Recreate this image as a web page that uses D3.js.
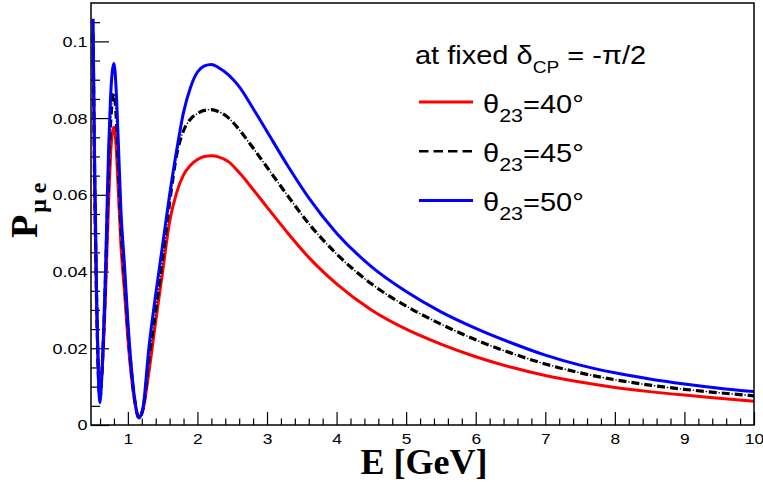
<!DOCTYPE html>
<html>
<head>
<meta charset="utf-8">
<script src="https://cdn.jsdelivr.net/npm/d3@7"></script>
<style>
  body { margin: 0; background: #fff; }
  text { font-family: "Liberation Sans", Arial, sans-serif; }
</style>
</head>
<body>
<script>
// energies (GeV) and appearance probabilities
var energy = [0.5, 0.52, 0.55, 0.575, 0.597, 0.625, 0.65, 0.675, 0.7, 0.725, 0.75, 0.775, 0.8, 0.83, 0.86, 0.9, 0.95, 1.0, 1.05, 1.1,
  1.16, 1.22, 1.3, 1.4, 1.5, 1.6, 1.7, 1.8, 1.9, 2.0, 2.1, 2.2, 2.3, 2.45, 2.6, 2.8, 3.0, 3.3, 3.6, 4.0,
  4.5, 5.0, 5.5, 6.0, 6.5, 7.0, 7.5, 8.0, 8.5, 9.0, 9.5, 10.0]

var p40 = [0.097, 0.064, 0.031, 0.0145, 0.0085, 0.013, 0.021, 0.032, 0.046, 0.059, 0.070, 0.0760, 0.0777, 0.073, 0.062, 0.047, 0.035, 0.0225, 0.0128, 0.006,
  0.0022, 0.0042, 0.0135, 0.027, 0.040, 0.053, 0.0605, 0.0652, 0.0677, 0.0692, 0.0700, 0.0702, 0.0699, 0.0686, 0.0658, 0.0614, 0.0568, 0.0500, 0.0437, 0.0368,
  0.0300, 0.0250, 0.0211, 0.0178, 0.0151, 0.0129, 0.0112, 0.0098, 0.0087, 0.0078, 0.0070, 0.0062]

var p45 = [0.102, 0.068, 0.033, 0.0135, 0.0068, 0.013, 0.023, 0.036, 0.052, 0.067, 0.078, 0.0845, 0.0864, 0.081, 0.069, 0.052, 0.039, 0.025, 0.014, 0.0062,
  0.0018, 0.0044, 0.017, 0.030, 0.0435, 0.058, 0.0703, 0.0767, 0.0797, 0.0812, 0.0820, 0.0822, 0.0817, 0.0800, 0.0770, 0.0722, 0.0672, 0.0597, 0.0525, 0.0446,
  0.0368, 0.0310, 0.0263, 0.0222, 0.0188, 0.0159, 0.0136, 0.0118, 0.0104, 0.0093, 0.0084, 0.0076]

var p50 = [0.1059, 0.072, 0.035, 0.0135, 0.0058, 0.0125, 0.024, 0.038, 0.056, 0.073, 0.085, 0.092, 0.0942, 0.088, 0.075, 0.056, 0.042, 0.027, 0.015, 0.0065,
  0.0018, 0.0048, 0.0198, 0.034, 0.047, 0.060, 0.0715, 0.0815, 0.0880, 0.0920, 0.0936, 0.0940, 0.0932, 0.0912, 0.0882, 0.0825, 0.0765, 0.0675, 0.0592, 0.0500,
  0.0413, 0.0348, 0.0295, 0.0252, 0.0215, 0.0182, 0.0156, 0.0136, 0.0120, 0.0107, 0.0096, 0.0087]

var xTicks = [1, 2, 3, 4, 5, 6, 7, 8, 9, 10]
var yTicks = [0, 0.02, 0.04, 0.06, 0.08, 0.1]
var legendLabels = ["40", "45", "50"]

var W = 763, H = 482
var m = {left: 91, right: 754, top: 3, bottom: 425}
var stretch = 1.16   // the original figure is a bit wider than tall

var svg = d3.select("body").append("svg")
  .attr("width", W)
  .attr("height", H)

var x = d3.scaleLinear().domain([0.47, 10]).range([m.left, m.right])
var y = d3.scaleLinear().domain([0, 0.11]).range([m.bottom, m.top])

// minor + major ticks, drawn inside the frame like ROOT does
var xMinor = d3.range(0.6, 10.01, 0.2).filter(v => Math.abs(v - Math.round(v)) > 0.01)
var yMinor = d3.range(0.005, 0.1051, 0.005).filter(v => Math.abs(v / 0.02 - Math.round(v / 0.02)) > 0.01)

svg.append("g")
    .attr("transform", `translate(0,${m.bottom})`)
    .call(d3.axisBottom(x).tickValues(xMinor).tickSize(-6.5).tickFormat(""))
    .call(g => g.select(".domain").remove())
svg.append("g")
    .attr("transform", `translate(0,${m.bottom})`)
    .call(d3.axisBottom(x).tickValues(xTicks).tickSize(-13).tickPadding(8).tickFormat(d3.format("d")))
    .call(g => g.select(".domain").remove())
    .call(g => g.selectAll("text").attr("font-size", 15).attr("fill", "#000")
      .attr("transform", `scale(${stretch},1)`))

svg.append("g")
    .attr("transform", `translate(${m.left},0)`)
    .call(d3.axisLeft(y).tickValues(yMinor).tickSize(-9).tickFormat(""))
    .call(g => g.select(".domain").remove())
svg.append("g")
    .attr("transform", `translate(${m.left},0)`)
    .call(d3.axisLeft(y).tickValues(yTicks).tickSize(-18).tickPadding(3).tickFormat(d => d === 0 ? "0" : d3.format("~g")(d)))
    .call(g => g.select(".domain").remove())
    .call(g => g.selectAll("text").attr("font-size", 15.5).attr("fill", "#000")
      .attr("transform", `scale(${stretch},1)`))

svg.selectAll(".tick line").attr("stroke", "#000").attr("stroke-width", 1.2)

svg.append("defs").append("clipPath").attr("id", "clip")
  .append("rect").attr("x", m.left).attr("y", m.top)
  .attr("width", m.right - m.left).attr("height", m.bottom - m.top)

var line = d3.line()
  .x(d => x(d[0]))
  .y(d => y(d[1]))
  .curve(d3.curveMonotoneX)

var plot = svg.append("g").attr("clip-path", "url(#clip)")

plot.append("path")
    .attr("d", line(d3.zip(energy, p40)))
    .attr("fill", "none").attr("stroke", "#ff0000").attr("stroke-width", 3)

plot.append("path")
    .attr("d", line(d3.zip(energy, p45)))
    .attr("fill", "none").attr("stroke", "#000").attr("stroke-width", 3.2)
    .attr("stroke-dasharray", "8 5")
plot.append("path")
    .attr("d", line(d3.zip(energy, p45)))
    .attr("fill", "none").attr("stroke", "#000").attr("stroke-width", 1.3)
    .attr("stroke-dasharray", "1.5 11.5").attr("stroke-dashoffset", -9.75)

plot.append("path")
    .attr("d", line(d3.zip(energy, p50)))
    .attr("fill", "none").attr("stroke", "#0000ff").attr("stroke-width", 3)

// frame
svg.append("rect")
    .attr("x", m.left).attr("y", m.top)
    .attr("width", m.right - m.left).attr("height", m.bottom - m.top)
    .attr("fill", "none").attr("stroke", "#000").attr("stroke-width", 1.5)

// legend
var leg = svg.append("g")
var title = leg.append("text")
    .attr("transform", `translate(415,64) scale(${stretch},1)`)
    .attr("font-size", 25)
title.append("tspan").text("at fixed δ")
title.append("tspan").attr("font-size", 16.5).attr("dy", 9.3).text("CP")
title.append("tspan").attr("dy", -9.3).text(" = -π/2")

var legColors = ["#ff0000", "#000", "#0000ff"]
legendLabels.forEach(function(lab, i) {
  var yy = 102 + i * 49.2
  leg.append("line")
      .attr("x1", 419).attr("x2", 473).attr("y1", yy).attr("y2", yy)
      .attr("stroke", legColors[i]).attr("stroke-width", i === 1 ? 2.5 : 3)
      .attr("stroke-dasharray", i === 1 ? "9.5 5" : null)
  var t = leg.append("text")
      .attr("transform", `translate(483,${yy + 10.7}) scale(${stretch},1)`)
      .attr("font-size", 25)
  t.append("tspan").text("θ")
  t.append("tspan").attr("font-size", 18.5).attr("dy", 9).text("23")
  t.append("tspan").attr("dy", -9).text("=" + lab + "°")
})

// axis titles
svg.append("text")
    .attr("x", 424).attr("y", 474)
    .attr("text-anchor", "middle")
    .style("font-family", "'Liberation Serif', 'Times New Roman', serif")
    .attr("font-weight", "bold").attr("font-size", 36)
    .text("E [GeV]")

var yl = svg.append("text")
    .attr("transform", "translate(37,238) rotate(-90)")
    .style("font-family", "'Liberation Serif', 'Times New Roman', serif")
    .attr("font-weight", "bold").attr("font-size", 38)
yl.append("tspan").text("P")
yl.append("tspan").attr("font-size", 24).attr("dy", 9).attr("dx", 2).text("μ e")
</script>
</body>
</html>
